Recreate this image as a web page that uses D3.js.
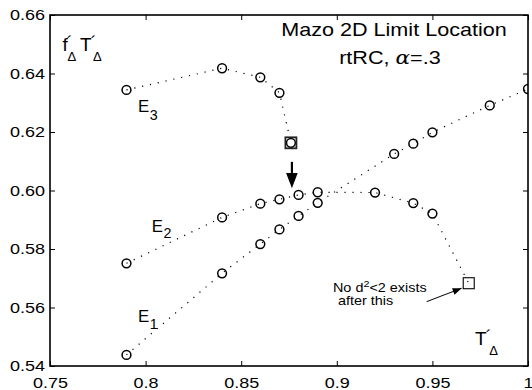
<!DOCTYPE html>
<html>
<head>
<meta charset="utf-8">
<script src="https://cdn.jsdelivr.net/npm/d3@7/dist/d3.min.js"></script>
<style>
    body { margin: 0; background: #fff; }
    text { font-family: "Liberation Sans", Arial, sans-serif; fill: #000; }
    .tick line { stroke: #000; stroke-width: 1; }
</style>
</head>
<body>
<div id="chart"></div>
<script>
// Data
var xTicks = [0.75, 0.8, 0.85, 0.9, 0.95, 1];
var yTicks = [0.54, 0.56, 0.58, 0.6, 0.62, 0.64, 0.66];

// E1 (lower curve, continues up to the right)
var e1X = [0.79, 0.84, 0.86, 0.87, 0.88, 0.89, 0.93, 0.94, 0.95, 0.98, 1.0];
var e1Y = [0.5438, 0.5717, 0.5817, 0.5867, 0.5913, 0.5958, 0.6125, 0.6160, 0.6199, 0.6291, 0.6347];

// E2 (middle curve, falls off after 0.92, ends at a square)
var e2X = [0.79, 0.84, 0.86, 0.87, 0.88, 0.89, 0.92, 0.94, 0.95];
var e2Y = [0.5751, 0.5908, 0.5955, 0.5970, 0.5985, 0.5994, 0.5993, 0.5957, 0.5921];
var e2End = [0.969, 0.5683];

// E3 (upper curve, ends at a square around 0.876)
var e3X = [0.79, 0.84, 0.86, 0.87, 0.876];
var e3Y = [0.6344, 0.6418, 0.6387, 0.6334, 0.6163];

(function(d3) {

    var W = 532, H = 390;
    var margin = {top: 15, right: 4, bottom: 24, left: 50};
    var width = W - margin.left - margin.right,
        height = H - margin.top - margin.bottom;
    var SX = 1.2;   // the original text is a bit stretched sideways

    var x = d3.scaleLinear().domain([0.75, 1]).range([0, width]);
    var y = d3.scaleLinear().domain([0.54, 0.66]).range([height, 0]);

    var svg = d3.select('#chart').append('svg')
        .attr('width', W).attr('height', H)
        .style('background', '#fff');

    var g = svg.append('g')
        .attr('transform', 'translate(' + margin.left + ',' + margin.top + ')');

    svg.append('defs').append('clipPath').attr('id', 'plotclip')
        .append('rect').attr('width', width).attr('height', height);

    /**
     * Put a (maybe stretched) piece of text at pixel coords.
     */
    function label(parent, px, py, str, size, anchor, sx) {
        return parent.append('text')
            .attr('transform', 'translate(' + px + ',' + py + ') scale(' + (sx || SX) + ',1)')
            .attr('text-anchor', anchor || 'start')
            .style('font-size', size + 'px')
            .text(str);
    }

    // Axes, ticks pointing inward
    var gx = g.append('g').attr('transform', 'translate(0,' + height + ')')
        .call(d3.axisBottom(x).tickValues(xTicks).tickSizeInner(-5).tickSizeOuter(0)
            .tickPadding(11).tickFormat(d3.format('')));
    var gy = g.append('g')
        .call(d3.axisLeft(y).tickValues(yTicks).tickSizeInner(-5).tickSizeOuter(0)
            .tickPadding(5).tickFormat(d3.format('.2f')));
    g.append('g')
        .call(d3.axisTop(x).tickValues(xTicks).tickSizeInner(-5).tickSizeOuter(0).tickFormat(''));
    g.append('g').attr('transform', 'translate(' + width + ',0)')
        .call(d3.axisRight(y).tickValues(yTicks).tickSizeInner(-5).tickSizeOuter(0).tickFormat(''));

    g.selectAll('.domain').remove();
    g.selectAll('.tick text').attr('fill', '#000').style('font-size', '15px');
    gx.selectAll('.tick text').attr('transform', 'scale(' + SX + ',1)');
    gy.selectAll('.tick text').each(function() {
        var t = d3.select(this);
        var tx = +t.attr('x');
        t.attr('x', 0).attr('transform', 'translate(' + tx + ',0) scale(' + SX + ',1)');
    });

    // Box
    g.append('rect')
        .attr('width', width).attr('height', height)
        .attr('fill', 'none').attr('stroke', '#000').attr('stroke-width', 1.6);

    // Curves
    var plot = g.append('g').attr('clip-path', 'url(#plotclip)');
    var line = d3.line().x(function(d) { return x(d[0]); }).y(function(d) { return y(d[1]); });

    var e1 = d3.zip(e1X, e1Y),
        e2 = d3.zip(e2X, e2Y),
        e3 = d3.zip(e3X, e3Y);

    [e1, e2.concat([e2End]), e3].forEach(function(pts) {
        plot.append('path')
            .attr('d', line(pts))
            .attr('fill', 'none')
            .attr('stroke', '#000')
            .attr('stroke-width', 1.2)
            .attr('stroke-dasharray', '1.2,6.8');
    });

    // Circle markers
    plot.selectAll('circle.m')
        .data(e1.concat(e2, e3))
        .enter().append('circle')
            .attr('class', 'm')
            .attr('cx', function(d) { return x(d[0]); })
            .attr('cy', function(d) { return y(d[1]); })
            .attr('r', 4.4)
            .attr('fill', 'none')
            .attr('stroke', '#000')
            .attr('stroke-width', 1.5);

    // Square end markers
    var e3Last = e3[e3.length - 1];
    plot.append('rect')
        .attr('x', x(e3Last[0]) - 5.5).attr('y', y(e3Last[1]) - 5.5)
        .attr('width', 11).attr('height', 11)
        .attr('fill', 'none').attr('stroke', '#222').attr('stroke-width', 1.8);
    plot.append('rect')
        .attr('x', x(e2End[0]) - 5.5).attr('y', y(e2End[1]) - 5.5)
        .attr('width', 11).attr('height', 11)
        .attr('fill', 'none').attr('stroke', '#000').attr('stroke-width', 1.1);

    // Arrow from E3's end down to the E2 curve
    var ax = x(e3Last[0]) + 1;
    var aTop = y(0.6098), aTip = y(0.6008), aHead = y(0.6060);
    g.append('line')
        .attr('x1', ax).attr('x2', ax).attr('y1', aTop).attr('y2', aHead)
        .attr('stroke', '#000').attr('stroke-width', 2.2);
    g.append('path')
        .attr('d', 'M' + (ax - 5.8) + ',' + aHead + 'L' + (ax + 5.8) + ',' + aHead + 'L' + ax + ',' + aTip + 'Z')
        .attr('fill', '#000');

    // Annotation with arrow to the E2 square
    var nx0 = x(0.9470), ny0 = y(0.5620),
        nx1 = x(0.9653), ny1 = y(0.5666);
    g.append('line')
        .attr('x1', nx0).attr('y1', ny0).attr('x2', nx1).attr('y2', ny1)
        .attr('stroke', '#000').attr('stroke-width', 1);
    var ang = Math.atan2(ny1 - ny0, nx1 - nx0);
    var hl = 9, hw = 3.5;
    var bx = nx1 - hl * Math.cos(ang), by = ny1 - hl * Math.sin(ang);
    g.append('path')
        .attr('d', 'M' + nx1 + ',' + ny1 +
            'L' + (bx + hw * Math.sin(ang)) + ',' + (by - hw * Math.cos(ang)) +
            'L' + (bx - hw * Math.sin(ang)) + ',' + (by + hw * Math.cos(ang)) + 'Z')
        .attr('fill', '#000');

    var note = label(g, x(0.898), y(0.5653), '', 12);
    note.append('tspan').text('No d');
    note.append('tspan').attr('dy', -5).style('font-size', '9px').text('2');
    note.append('tspan').attr('dy', 5).text('<2 exists');
    label(g, x(0.9006), y(0.5609), 'after this', 12);

    // Title
    label(g, x(0.9299), y(0.6528), 'Mazo 2D Limit Location', 18, 'middle');
    var t2 = label(g, x(0.9278), y(0.6434), '', 18, 'middle');
    t2.append('tspan').text('rtRC, ');
    t2.append('tspan').style('font-family', '"DejaVu Serif", serif').style('font-style', 'italic').text('\u03b1');
    t2.append('tspan').text('=.3');

    // Curve labels: E with a subscript, one text each
    function sublabel(px, py, main, sub, subDy) {
        var t = label(g, px, py, '', 16.5, 'start', 1.02);
        t.append('tspan').text(main);
        t.append('tspan').attr('dx', 0.5).attr('dy', subDy).style('font-size', '14px').text(sub);
    }
    sublabel(x(0.796), y(0.6269), 'E', '3', 8.5);
    sublabel(x(0.8032), y(0.5859), 'E', '2', 6.5);
    sublabel(x(0.796), y(0.5550), 'E', '1', 6.5);

    // Axis labels f'Δ T'Δ and T'Δ, built from tspans
    function primePart(t, main, gap, deltaDx) {
        var m = t.append('tspan').style('font-size', '19px').text(main);
        if (gap != null) m.attr('dx', gap).attr('dy', -10);
        t.append('tspan').attr('dx', -1).attr('dy', -3).style('font-size', '17px').text('\u00b4');
        t.append('tspan').attr('dx', deltaDx).attr('dy', 13).style('font-size', '13px').text('\u0394');
    }
    var lab1 = label(g, x(0.7565), y(0.6477), '', 19, 'start', 1);
    primePart(lab1, 'f', null, -5);
    primePart(lab1, 'T', 4, -3.3);
    var lab2 = label(g, x(0.9723), y(0.5472), '', 19, 'start', 1);
    primePart(lab2, 'T', null, -2);

})(d3);
</script>
</body>
</html>
